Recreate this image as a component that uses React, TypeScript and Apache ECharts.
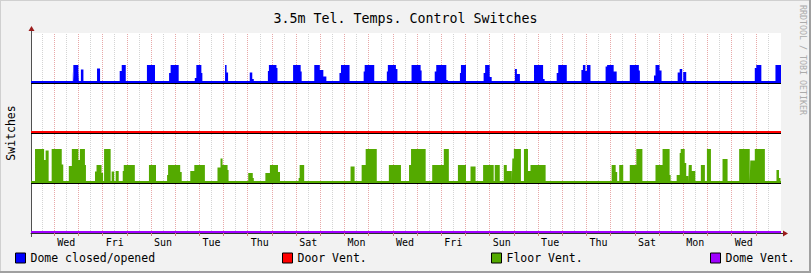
import React, { useEffect, useRef } from 'react';
import * as echarts from 'echarts';

const FONT = 'DejaVu Sans Mono';
// hours relative to the first Wednesday 00:00 shown
const X_MIN = -23;
const X_MAX = 721;

const dayLabels = ['Wed', 'Fri', 'Sun', 'Tue', 'Thu', 'Sat', 'Mon', 'Wed', 'Fri', 'Sun', 'Tue', 'Thu', 'Sat', 'Mon', 'Wed'];
const labelHours = dayLabels.map((_, i) => 12 + 48 * i);
const majorGridHours = Array.from({ length: 30 }, (_, i) => 24 * i);
const minorGridHours = Array.from({ length: 31 }, (_, i) => -12 + 24 * i);

const seriesNames = ['Dome closed/opened', 'Door Vent.', 'Floor Vent.', 'Dome Vent.'];
const seriesColors = ['#0000ff', '#ff0000', '#54aa00', '#9f00ff'];
const seriesOffsets = [3, 2, 1, 0];

// [start hour, end hour, switch level]
const domeIntervals: number[][] = [
  [18.5, 19, 0.24], [19, 24, 0.36], [24, 24.5, 0.24], [26.5, 29, 0.27], [42.5, 45.5, 0.29],
  [65, 67, 0.24], [67, 71, 0.36], [92, 100, 0.36], [100, 101.5, 0.04], [114, 115.5, 0.2],
  [115.5, 123.5, 0.36], [123.5, 124.5, 0.03], [139.5, 141, 0.1], [141, 146, 0.36], [146, 147, 0.2],
  [169.5, 171, 0.36], [171, 172.5, 0.21], [194, 196.5, 0.21], [196.5, 198, 0.08], [212, 213, 0.24],
  [213, 220.5, 0.36], [220.5, 221.5, 0.3], [237, 244.5, 0.36], [244.5, 245.5, 0.23], [258, 263.5, 0.36],
  [263.5, 267, 0.26], [267, 270, 0.13], [283, 284.5, 0.2], [284.5, 293, 0.36], [293, 294, 0.03],
  [307, 308, 0.23], [308, 317.5, 0.36], [330, 331, 0.23], [331, 339, 0.36], [339, 340.5, 0.28],
  [354.5, 363.5, 0.36], [363.5, 364.5, 0.25], [377.5, 379, 0.23], [379, 389, 0.36], [389, 390.5, 0.06],
  [402.5, 403.5, 0.2], [403.5, 408.5, 0.36], [426, 427.5, 0.2], [427.5, 432, 0.36], [432, 434, 0.12],
  [457, 459, 0.28], [459, 462, 0.18], [476, 485, 0.36], [485, 486.5, 0.08], [498.5, 500, 0.2],
  [500, 508.5, 0.36], [508.5, 510, 0.04], [523, 524.5, 0.26], [524.5, 527, 0.36], [527, 528.5, 0.24],
  [528.5, 532, 0.36], [532, 533, 0.03], [547, 548.5, 0.33], [548.5, 555, 0.36], [555, 558, 0.23],
  [571, 580, 0.36], [580, 581, 0.25], [595, 596.5, 0.15], [596.5, 600.5, 0.36], [600.5, 602.5, 0.25],
  [618.5, 620.5, 0.21], [620.5, 623, 0.28], [624, 627, 0.22], [695, 696.5, 0.3], [696.5, 701.5, 0.36],
  [715.5, 721, 0.36],
];

const floorIntervals: number[][] = [
  [-19, -10, 0.68], [-10, -8.5, 0.46], [-8.5, -5.5, 0.65], [-2.5, 7.5, 0.68], [7.5, 9, 0.37],
  [14.5, 17.5, 0.34], [17.5, 24, 0.68], [24, 25.5, 0.46], [25.5, 30.5, 0.68], [30.5, 31.5, 0.36],
  [40.5, 42, 0.23], [42, 47, 0.36], [47, 48.5, 0.2], [49.5, 56, 0.68], [57, 59.5, 0.23],
  [61, 64, 0.24], [68, 69, 0.24], [69, 80, 0.36], [94, 101, 0.36], [112, 113, 0.16],
  [113, 125, 0.36], [125, 126.5, 0.22], [135, 139, 0.24], [139, 149.5, 0.36], [162, 165, 0.31],
  [165, 167, 0.49], [167, 172, 0.36], [172, 173, 0.26], [192.5, 197, 0.2], [197, 198, 0.1],
  [209.5, 214, 0.2], [214, 222, 0.36], [222, 224, 0.22], [242.5, 243.5, 0.1], [243.5, 248, 0.36],
  [294, 298, 0.33], [305, 309, 0.36], [309, 320, 0.68], [332, 344, 0.36], [352, 354, 0.36],
  [354, 368.5, 0.68], [375, 386.5, 0.36], [386.5, 391.5, 0.68], [400.5, 408.5, 0.36], [413, 418, 0.33],
  [425.5, 436, 0.36], [437, 442, 0.36], [446, 449, 0.36], [449, 454, 0.24], [454.5, 456, 0.49],
  [456, 463, 0.68], [466, 470, 0.68], [470, 472.5, 0.24], [472.5, 487.5, 0.36], [553, 557, 0.36],
  [557, 558.5, 0.22], [560.5, 564.5, 0.36], [571, 577.5, 0.36], [577.5, 583.5, 0.68], [596.5, 603.5, 0.36],
  [603.5, 610.5, 0.68], [610.5, 611.5, 0.16], [617.5, 620.5, 0.16], [620.5, 621.5, 0.6], [621.5, 625.5, 0.68],
  [625.5, 627, 0.4], [627, 629, 0.14], [629.5, 632.5, 0.36], [632.5, 636, 0.24], [641.5, 645.5, 0.36],
  [647.5, 651.5, 0.68], [663, 668, 0.48], [679.5, 690, 0.68], [690.5, 695, 0.45], [695, 705, 0.68],
  [716.5, 719, 0.26], [719, 720.5, 0.1],
];

function stepPoints(intervals: number[][], base: number) {
  const pts: number[][] = [[X_MIN, base]];
  for (const [s, e, v] of intervals) {
    pts.push([s, base], [s, base + v], [e, base + v], [e, base]);
  }
  pts.push([X_MAX, base]);
  return pts;
}

function flatLine(name: string | undefined, value: number, color: string, width: number, z: number) {
  return {
    type: 'line', name, data: [[X_MIN, value], [X_MAX, value]], showSymbol: false, symbol: 'none',
    silent: true, z, lineStyle: { color, width }, itemStyle: { color },
  };
}

export default function App() {
  const ref = useRef<HTMLDivElement>(null);
  useEffect(() => {
    if (!ref.current) return;
    const chart = echarts.init(ref.current, undefined, { renderer: 'svg' });
    const gridLines = [
      ...minorGridHours.map((h) => ({ xAxis: h, lineStyle: { color: '#d4d4d4', type: [1, 1], width: 1 } })),
      ...majorGridHours.map((h) => ({ xAxis: h, lineStyle: { color: '#e8a8a8', type: [1, 1], width: 1 } })),
    ];
    const legends = seriesNames.map((name, i) => ({
      left: [15, 282, 491, 710][i], top: 252, padding: 0, itemWidth: 10, itemHeight: 10, selectedMode: false,
      data: [{ name, icon: 'rect', itemStyle: { color: seriesColors[i], borderColor: '#000', borderWidth: 1 } }],
      textStyle: { fontFamily: FONT, fontSize: 11.5, color: '#000' },
    }));
    const arrowColor = '#9b1c1c';
    chart.setOption({
      animation: false,
      backgroundColor: '#f2f2f2',
      title: {
        text: '3.5m Tel. Temps. Control Switches', left: 'center', top: 7,
        textStyle: { fontFamily: FONT, fontSize: 13.3, fontWeight: 'normal', color: '#000' },
      },
      legend: legends,
      grid: { left: 31, top: 33, width: 750, height: 200, show: true, backgroundColor: '#ffffff', borderWidth: 0 },
      xAxis: {
        type: 'value', min: X_MIN, max: X_MAX,
        axisLine: { show: true, onZero: false, lineStyle: { color: '#303030', width: 1 } },
        axisTick: { show: true, customValues: majorGridHours, length: 3, lineStyle: { color: '#d08080' } },
        axisLabel: {
          show: true, customValues: labelHours, margin: 4,
          formatter: (v: number) => dayLabels[labelHours.indexOf(v)] ?? '',
          fontFamily: FONT, fontSize: 10, color: '#000',
        },
        splitLine: { show: false },
      },
      yAxis: {
        type: 'value', min: 0, max: 4,
        axisLine: { show: true, onZero: false, lineStyle: { color: '#505050', width: 1 } },
        axisTick: { show: false }, axisLabel: { show: false }, splitLine: { show: false },
      },
      series: [
        {
          type: 'line', data: [[X_MIN, 0]], showSymbol: false, symbol: 'none', silent: true, z: 1,
          lineStyle: { opacity: 0 },
          markLine: { silent: true, symbol: ['none', 'none'], label: { show: false }, data: gridLines, z: 1 },
        },
        {
          type: 'line', name: seriesNames[0], data: stepPoints(domeIntervals, seriesOffsets[0]),
          showSymbol: false, symbol: 'none', silent: true, z: 2,
          lineStyle: { width: 0, opacity: 0 }, itemStyle: { color: seriesColors[0] },
          areaStyle: { color: seriesColors[0], opacity: 1, origin: seriesOffsets[0] },
        },
        {
          type: 'line', name: seriesNames[2], data: stepPoints(floorIntervals, seriesOffsets[2]),
          showSymbol: false, symbol: 'none', silent: true, z: 2,
          lineStyle: { width: 0, opacity: 0 }, itemStyle: { color: seriesColors[2] },
          areaStyle: { color: seriesColors[2], opacity: 1, origin: seriesOffsets[2] },
        },
        flatLine(undefined, seriesOffsets[0] - 0.01, '#000', 1, 3),
        flatLine(undefined, seriesOffsets[1] - 0.01, '#000', 1, 3),
        flatLine(undefined, seriesOffsets[2] - 0.01, '#000', 1, 3),
        flatLine(undefined, seriesOffsets[0] + 0.02, seriesColors[0], 2, 4),
        flatLine(seriesNames[1], seriesOffsets[1] + 0.02, seriesColors[1], 2, 4),
        flatLine(undefined, seriesOffsets[2] + 0.02, seriesColors[2], 2, 4),
        flatLine(seriesNames[3], seriesOffsets[3] + 0.02, seriesColors[3], 2, 4),
      ],
      graphic: [
        { type: 'rect', shape: { x: 0, y: 0, width: 811, height: 1 }, style: { fill: '#d0d0d0' }, silent: true },
        { type: 'rect', shape: { x: 0, y: 0, width: 1, height: 273 }, style: { fill: '#d0d0d0' }, silent: true },
        { type: 'rect', shape: { x: 809, y: 0, width: 2, height: 273 }, style: { fill: '#a0a0a0' }, silent: true },
        { type: 'rect', shape: { x: 0, y: 271, width: 811, height: 2 }, style: { fill: '#a0a0a0' }, silent: true },
        { type: 'line', shape: { x1: 31.5, y1: 33, x2: 31.5, y2: 29 }, style: { stroke: '#505050', lineWidth: 1 }, silent: true },
        { type: 'line', shape: { x1: 31.5, y1: 233, x2: 31.5, y2: 237 }, style: { stroke: '#505050', lineWidth: 1 }, silent: true },
        { type: 'line', shape: { x1: 781, y1: 233.5, x2: 784, y2: 233.5 }, style: { stroke: '#303030', lineWidth: 1 }, silent: true },
        { type: 'polygon', shape: { points: [[31.5, 26], [28.5, 31], [34.5, 31]] }, style: { fill: arrowColor }, silent: true },
        { type: 'polygon', shape: { points: [[788, 233.5], [783, 230.5], [783, 236.5]] }, style: { fill: arrowColor }, silent: true },
        {
          type: 'text', x: 10.5, y: 133, rotation: Math.PI / 2, silent: true,
          style: { text: 'Switches', fontFamily: FONT, fontSize: 11.5, fill: '#000', align: 'center', verticalAlign: 'middle' },
        },
        {
          type: 'text', x: 803, y: 5, rotation: -Math.PI / 2, silent: true,
          style: { text: 'RRDTOOL / TOBI OETIKER', fontFamily: FONT, fontSize: 8.3, fill: '#ababab', align: 'left', verticalAlign: 'middle' },
        },
      ],
    });
    return () => chart.dispose();
  }, []);
  return <div ref={ref} style={{ position: 'fixed', left: 0, top: 0, width: 811, height: 273 }} />;
}
